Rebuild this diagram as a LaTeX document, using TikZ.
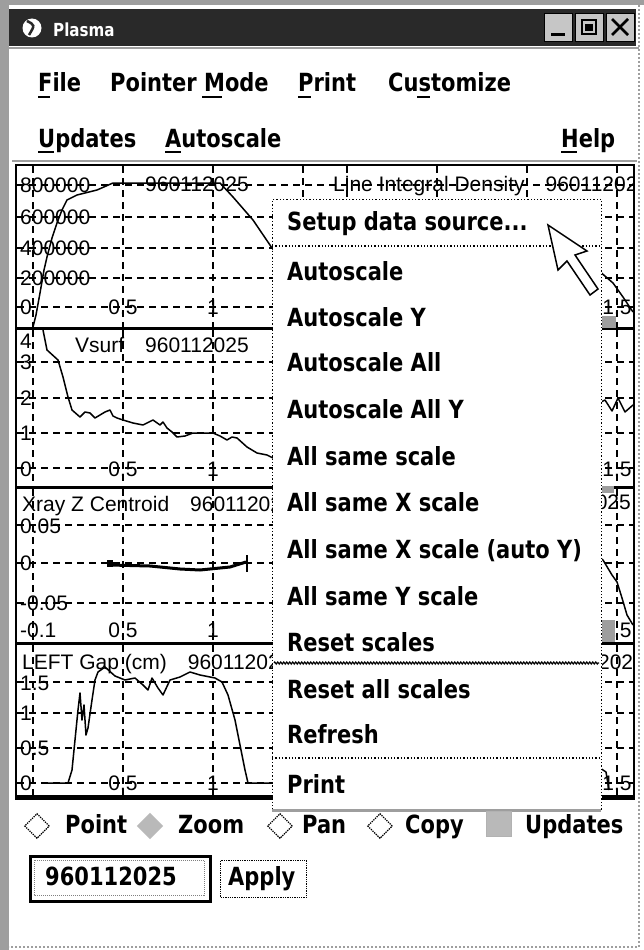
\documentclass[tikz,border=0pt]{standalone}
\usepackage{fontspec}
\setmainfont{Liberation Sans}
\newfontfamily\uifont[FakeStretch=0.84]{DejaVu Sans}
\usetikzlibrary{shapes.geometric,decorations.pathmorphing}
\definecolor{barcol}{gray}{0.16}
\definecolor{stipple}{gray}{0.62}
\tikzset{
  ui/.style={font=\uifont\bfseries\fontsize{25}{25}\selectfont, anchor=base west, inner sep=0pt},
  lab/.style={font=\fontsize{21}{21}\selectfont, anchor=base west, inner sep=0pt},
  xlab/.style={font=\fontsize{21}{21}\selectfont, anchor=base, inner sep=0pt},
  gridline/.style={dash pattern=on 7pt off 5pt, line width=1.3pt},
  sigline/.style={line width=1.5pt, line join=round},
  radiobox/.style={diamond, draw, densely dotted, line width=1.3pt, minimum size=25pt, inner sep=0pt}
}
\begin{document}
\begin{tikzpicture}[x=1pt, y=-1pt]
  \useasboundingbox (0,0) rectangle (644,950);
  \fill[white] (0,0) rectangle (644,950);

  \fill[stipple] (0,0) rectangle (9,950);
  \fill[stipple] (0,0) rectangle (644,5);
  \draw[stipple, line width=2pt, dotted] (639,5) -- (639,947) -- (9,947);

  \fill[barcol] (9,9) rectangle (636,46);
  \draw[stipple, line width=2pt] (9,48) -- (639,48);
  \node[circle, fill=white, minimum size=19pt, inner sep=0pt] (globe) at (32,28) {};
  \draw[barcol, line width=2.5pt] (27,21) .. controls (35,25) .. (29,35);
  \node[font=\uifont\bfseries\fontsize{18}{18}\selectfont, text=white, anchor=base west, inner sep=0pt] (title) at (53,37) {Plasma};
  \foreach \name/\x in {minbtn/544, maxbtn/575, closebtn/606}
    \node[draw, fill=gray!45, minimum size=28pt, anchor=north west, inner sep=0pt] (\name) at (\x,13) {};
  \fill (551,33) rectangle (565,36);
  \draw[line width=1.5pt] (582,20) rectangle (596,34);
  \fill (585,24) rectangle (593,31);
  \draw[line width=2.5pt] (612,19) -- (628,35) (628,19) -- (612,35);

  \foreach \name/\x/\y/\txt in {file/38/92/File, pointer/110/92/Pointer Mode, print/298/92/Print,
      custom/388/92/Customize, updates/38/147/Updates, autoscale/165/147/Autoscale, help/561/147/Help}
    \node[ui] (\name) at (\x,\y) {\txt};
  \foreach \a/\b/\y in {38/50/97, 202/222/97, 298/311/97, 417/430/97, 38/54/152, 165/181/152, 561/577/152}
    \draw[line width=2.5pt] (\a,\y) -- (\b,\y);

  \draw[stipple, line width=2pt] (12,161) -- (637,161);
  \draw[line width=2pt] (16,165) rectangle (634,799);
  \begin{scope}
    \clip (17,166) rectangle (633,798);
    \foreach \t/\b in {166/328, 330/487, 489/643, 645/796}
      \foreach \x in {33,123,213,303,347,437,527,617}
        \draw[gridline] (\x,\t) -- (\x,\b);
    \foreach \y in {185,217,248,278,307,362,398,433,468,525,563,603,682,713,748,783}
      \draw[gridline] (17,\y) -- (633,\y);
    \foreach \y in {328,487,643,796}
      \draw[line width=3pt] (17,\y) -- (633,\y);

    \foreach \y/\txt in {192/800000, 224/600000, 255/400000, 285/200000, 314/0,
        348/4, 369/3, 405/2, 440/1, 476/0,
        533/0.05, 570/0, 610/-0.05, 637/-0.1,
        690/1.5, 720/1, 755/0.5, 790/0}
      \node[lab] at (20,\y) {\txt};
    \foreach \y in {314,476,637,790} {
      \node[xlab] at (123,\y) {0.5};
      \node[xlab] at (213,\y) {1};
      \node[xlab] at (617,\y) {1.5};
    }
    \node[lab] (t1) at (145,191) {960112025};
    \node[lab] (t1r) at (333,191) {Line Integral Density\quad 960112025};
    \node[lab] (t2) at (75,352) {Vsurf\quad 960112025};
    \node[lab] (t3) at (22,511) {Xray Z Centroid\quad 960112025};
    \node[lab, anchor=base east] (t3r) at (631,509) {960112025};
    \node[lab] (t4) at (22,669) {LEFT Gap (cm)\quad 960112025};
    \node[lab, anchor=base east] (t4r) at (645,669) {960112025};

    \draw[sigline] (33,327) -- (36,315) -- (40,293) -- (44,270) -- (47,257) -- (52,238) -- (57,223)
      -- (62,210) -- (67,200) -- (77,195) -- (97,190) -- (113,183) -- (220,183) -- (233,197)
      -- (253,220) -- (272,248) -- (290,270);
    \draw[sigline] (590,262) -- (598,270) -- (613,283) -- (623,297) -- (633,312);
    \draw[sigline] (43,330) -- (47,350) -- (58,360) -- (63,377) -- (68,397) -- (72,410) -- (80,417)
      -- (85,412) -- (90,413) -- (95,418) -- (100,415) -- (105,412) -- (110,410) -- (113,416)
      -- (117,418) -- (123,420) -- (133,423) -- (143,425) -- (153,420) -- (160,425) -- (163,422)
      -- (167,428) -- (172,432) -- (177,437) -- (185,436) -- (193,433) -- (213,433) -- (220,436)
      -- (227,440) -- (232,437) -- (237,438) -- (247,447) -- (257,453) -- (267,455) -- (273,458)
      -- (290,462);
    \draw[sigline] (595,405) -- (605,400) -- (612,411) -- (618,398) -- (625,412) -- (633,405);
    \fill (107,560) rectangle (113,567);
    \draw[line width=3pt] (110,565) -- (150,566) -- (180,569) -- (200,570) -- (230,567) -- (246,562);
    \draw[line width=2pt] (247,555) -- (247,572);
    \draw[sigline] (595,555) -- (603,560) -- (612,575) -- (617,582) -- (622,598) -- (627,615) -- (633,625);
    \draw[sigline] (45,783) -- (68,783) -- (72,770) -- (75,740) -- (78,710) -- (80,693) -- (82,720)
      -- (84,705) -- (86,735) -- (88,728) -- (92,700) -- (95,680) -- (98,672) -- (105,667)
      -- (115,676) -- (125,680) -- (135,678) -- (143,685) -- (148,690) -- (152,678) -- (158,688)
      -- (163,695) -- (170,680) -- (180,677) -- (190,672) -- (200,675) -- (215,678) -- (222,682)
      -- (228,695) -- (235,720) -- (240,745) -- (245,770) -- (248,783) -- (272,783);
    \draw[sigline] (600,768) -- (606,772) -- (609,790);
    \fill[stipple] (601,316) rectangle (616,328);
    \fill[stipple] (601,486) rectangle (614,493);
    \fill[stipple] (598,620) rectangle (615,642);
  \end{scope}

  \node[draw, dotted, fill=white, line width=1.3pt, minimum width=329pt, minimum height=611pt,
    anchor=north west, inner sep=0pt] (popup) at (272,199) {};
  \draw[stipple, line width=3pt] (272,810) -- (601,810);
  \draw[dotted, line width=1.3pt] (272,246) -- (601,246);
  \draw[line width=1.2pt, decorate, decoration={zigzag, amplitude=1pt, segment length=3pt}] (274,663) -- (599,663);
  \draw[dotted, line width=1.3pt] (272,758) -- (601,758);
  \node[ui] (setup) at (287,230) {Setup data source...};
  \foreach \name/\y/\txt in {as/280/Autoscale, asy/326/Autoscale Y, asall/371/Autoscale All,
      asally/418/Autoscale All Y, same/465/All same scale, samex/511/All same X scale,
      samexauto/558/All same X scale (auto Y), samey/605/All same Y scale, reset/651/Reset scales,
      resetall/698/Reset all scales, refresh/743/Refresh, printitem/793/Print}
    \node[ui] (\name) at (287,\y) {\txt};

  \draw[fill=white, line width=1.5pt, line join=miter] (548,225) -- (558,270) -- (567,261)
    -- (590,295) -- (598,289) -- (575,255) -- (587,251) -- cycle;

  \node[radiobox] (ptbox) at (37,826) {};
  \node[ui] (point) at (65,833) {Point};
  \node[radiobox, solid, fill=gray!55, draw=gray!55] (zoombox) at (150,826) {};
  \node[ui] (zoom) at (178,833) {Zoom};
  \node[radiobox] (panbox) at (280,826) {};
  \node[ui] (pan) at (302,833) {Pan};
  \node[radiobox] (copybox) at (380,826) {};
  \node[ui] (copy) at (405,833) {Copy};
  \node[draw=gray!60, fill=gray!55, minimum size=25pt, inner sep=0pt] (updbox) at (499,824) {};
  \node[ui] (upd) at (525,833) {Updates};

  \node[draw, line width=3pt, minimum width=180pt, minimum height=45pt, anchor=north west, inner sep=0pt] (shotbox) at (29,855) {};
  \draw[densely dotted, gray, line width=1pt] (34,860) rectangle (204,895);
  \node[ui] (shot) at (45,885) {960112025};
  \node[draw, densely dotted, line width=1.3pt, minimum width=86pt, minimum height=37pt, anchor=north west, inner sep=0pt] (applybox) at (220,860) {};
  \node[ui] (apply) at (228,885) {Apply};
\end{tikzpicture}
\end{document}
